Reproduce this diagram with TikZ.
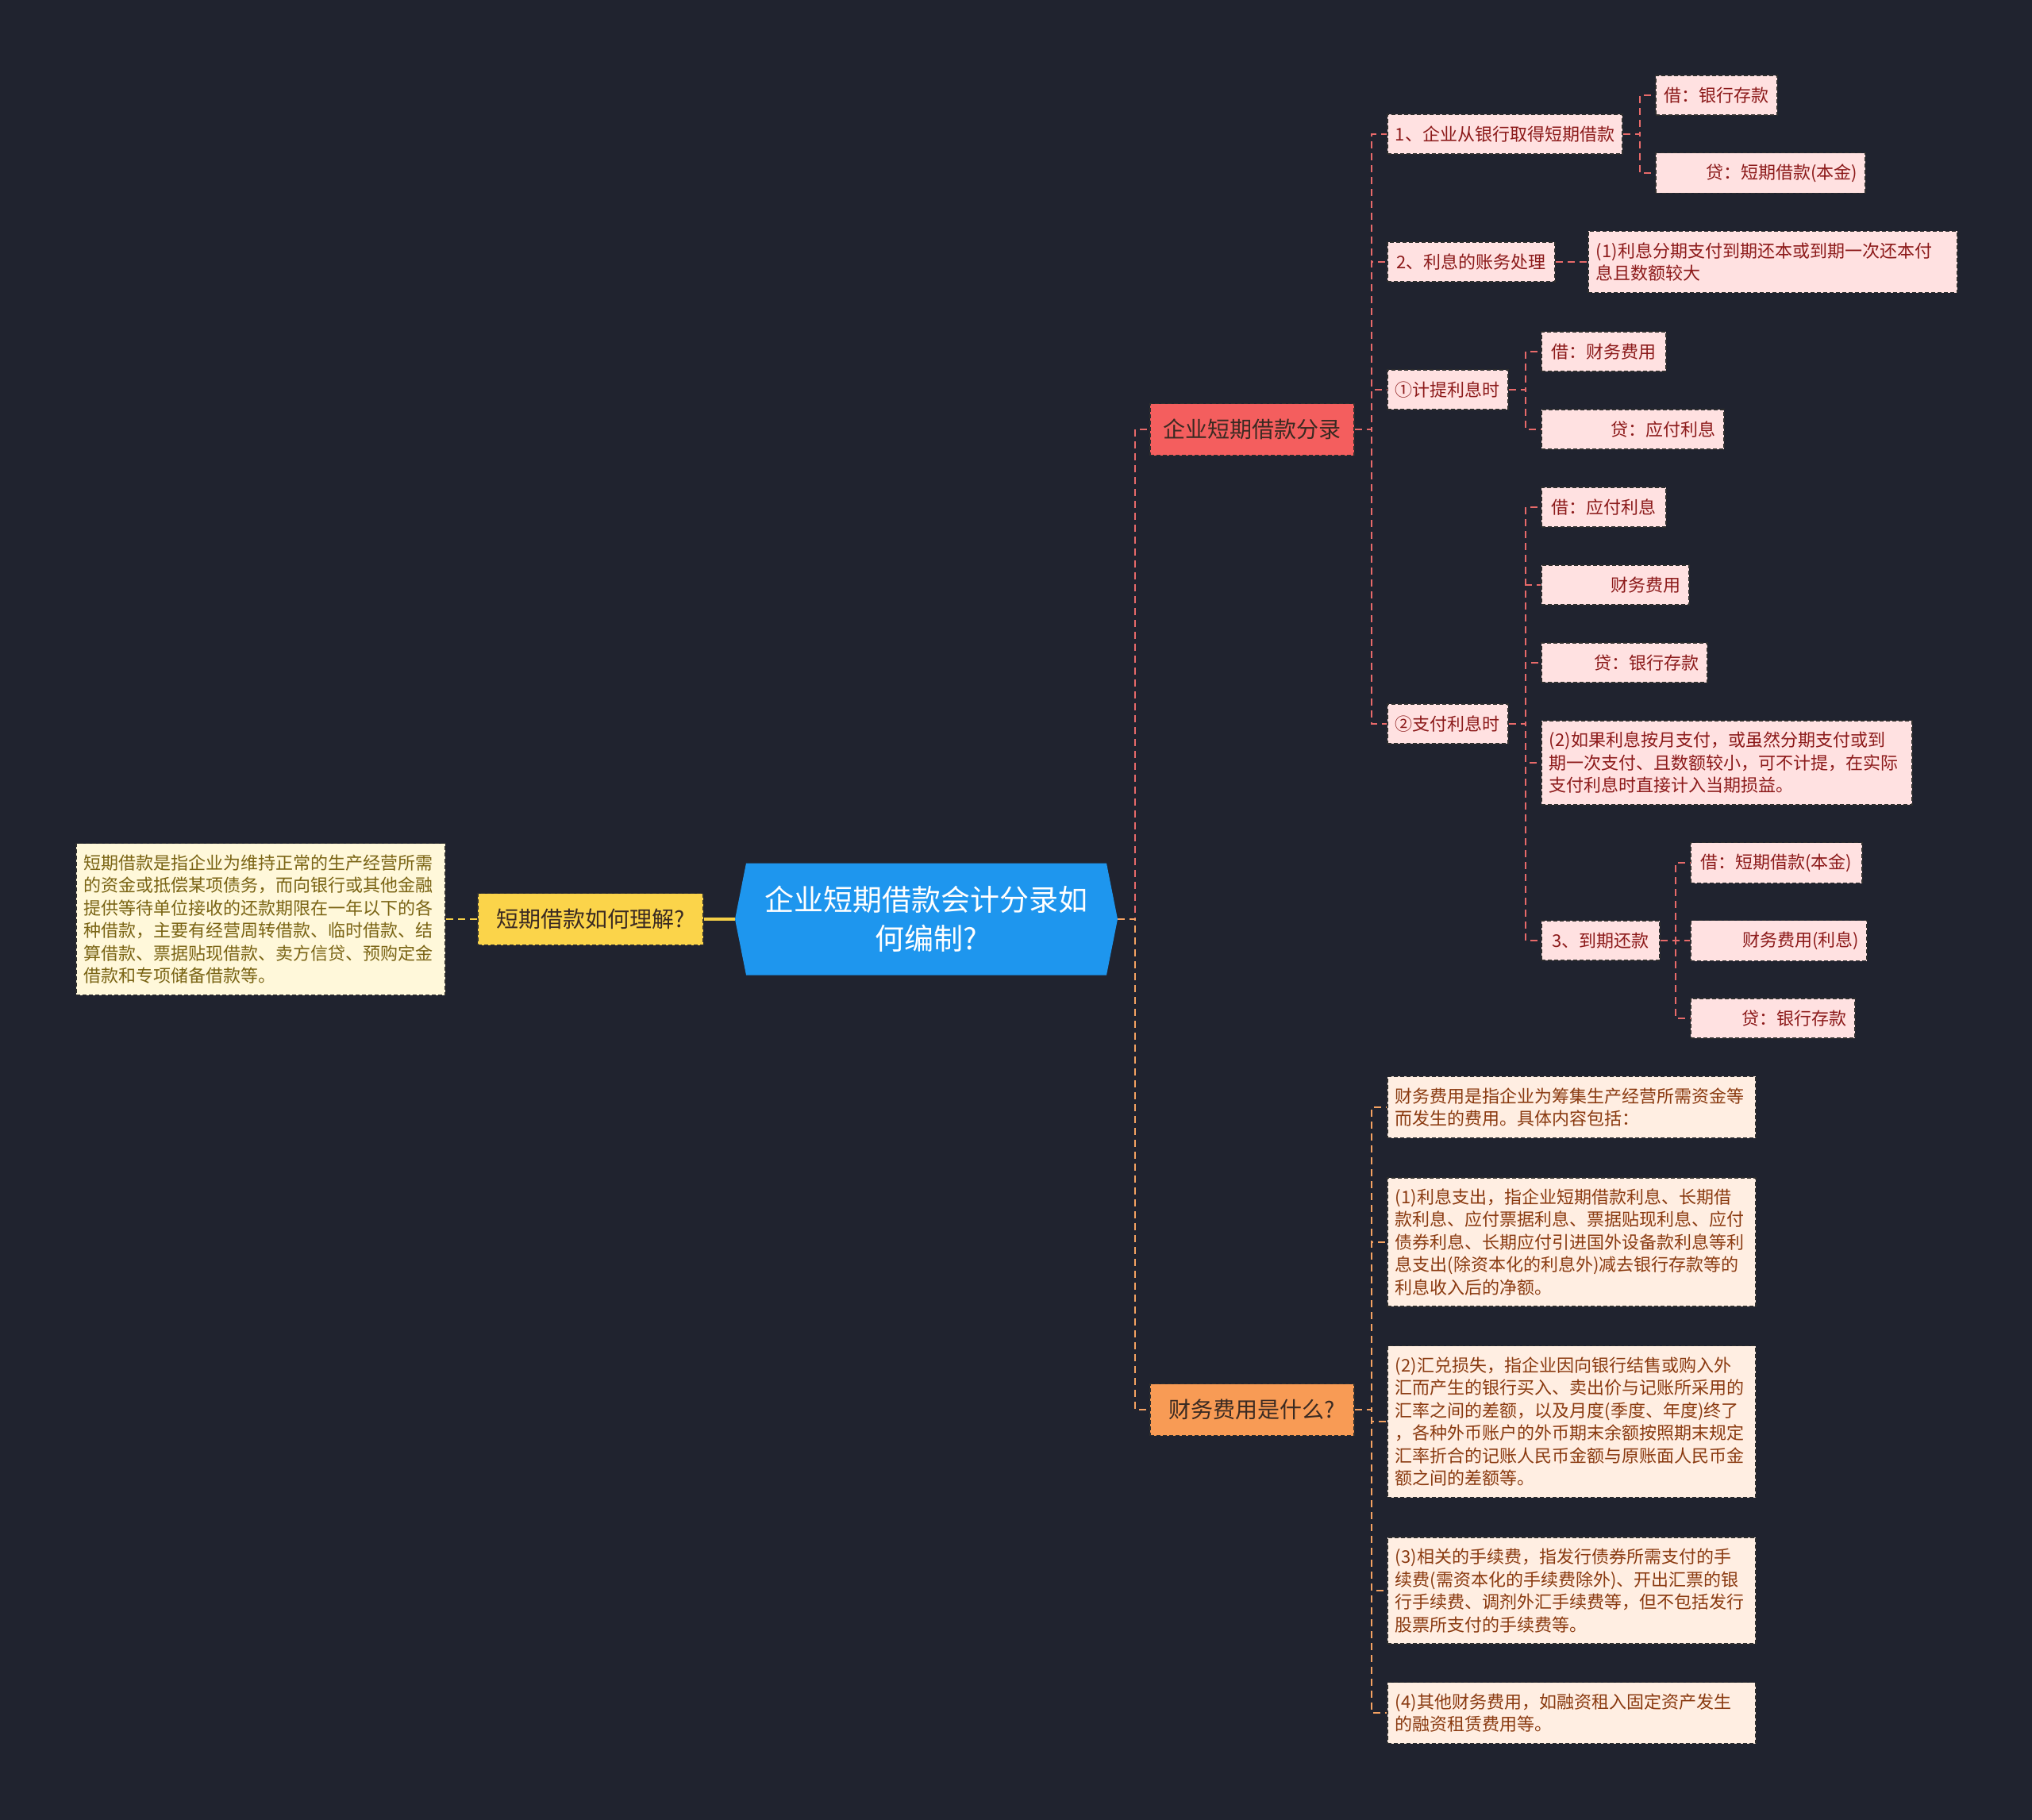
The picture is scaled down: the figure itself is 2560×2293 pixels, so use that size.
\documentclass[tikz,border=0pt]{standalone}
\usepackage{fontspec}
\newfontfamily\cjk{Noto Sans CJK SC}
\usetikzlibrary{calc}
\definecolor{bgc}{HTML}{20232F}
\definecolor{rootc}{HTML}{1E96EE}
\definecolor{redn}{HTML}{F45E5E}
\definecolor{orgn}{HTML}{F89B55}
\definecolor{yeln}{HTML}{FBD44A}
\definecolor{pinkf}{HTML}{FFE1E1}
\definecolor{peachf}{HTML}{FFEEE2}
\definecolor{creamf}{HTML}{FFF8DA}
\definecolor{redt}{HTML}{8C1A1A}
\definecolor{brownt}{HTML}{8A3A10}
\definecolor{olivet}{HTML}{7A6414}
\definecolor{redl}{HTML}{E86A6A}
\definecolor{orgl}{HTML}{F5A262}
\definecolor{yell}{HTML}{F5CF47}
\definecolor{bord}{HTML}{2E2E2E}
\definecolor{darkt}{HTML}{3A2A22}
\begin{document}
\begin{tikzpicture}[x=1pt,y=-1pt,
  base/.style={draw=bord, dash pattern=on 5pt off 3pt, line width=1.8pt,
    inner xsep=10pt, inner ysep=14pt, minimum height=50pt, anchor=west,
    font=\cjk\fontsize{22}{28.5}\selectfont},
  pinkbox/.style={base, fill=pinkf, text=redt},
  peachbox/.style={base, fill=peachf, text=brownt, align=left},
  creambox/.style={base, fill=creamf, text=olivet, align=left},
  lvlone/.style={base, minimum height=65pt, font=\cjk\fontsize{28}{34}\selectfont},
  rtext/.style={align=right, text width=#1},
  ltext/.style={align=left, text width=#1},
  rl/.style={draw=redl, line width=2.5pt, dash pattern=on 9pt off 6pt},
  ol/.style={draw=orgl, line width=2.5pt, dash pattern=on 9pt off 6pt},
  yl/.style={draw=yell, line width=2.5pt, dash pattern=on 9pt off 6pt},
]
\useasboundingbox (0,0) rectangle (2560,2293);
\fill[bgc] (0,0) rectangle (2560,2293);

% root hexagon
\coordinate (rc) at (1167,1158);
\fill[rootc] ($(rc)+(-241,0)$) -- ($(rc)+(-227,-70.5)$) -- ($(rc)+(227,-70.5)$)
  -- ($(rc)+(241,0)$) -- ($(rc)+(227,70.5)$) -- ($(rc)+(-227,70.5)$) -- cycle;
\node[inner sep=0pt, minimum width=482pt, minimum height=141pt, text=white,
  align=center, font=\cjk\fontsize{37}{49}\selectfont] (root) at (rc)
  {企业短期借款会计分录如\\何编制?};

% left branch
\node[lvlone, fill=yeln, text=darkt, minimum width=284pt] (yel) at (601,1158) {短期借款如何理解?};
\node[creambox, ltext=445pt] (ltx) at (95,1158) {短期借款是指企业为维持正常的生产经营所需\\的资金或抵偿某项债务，而向银行或其他金融\\提供等待单位接收的还款期限在一年以下的各\\种借款，主要有经营周转借款、临时借款、结\\算借款、票据贴现借款、卖方信贷、预购定金\\借款和专项储备借款等。};
\draw[yell, line width=4pt] (root.west) -- (yel.east);
\draw[yl] (yel.west) -- (ltx.east);

% level one right
\node[lvlone, fill=redn, text=darkt, minimum width=257pt] (red) at (1448,541) {企业短期借款分录};
\node[lvlone, fill=orgn, text=darkt, minimum width=257pt] (org) at (1448,1776) {财务费用是什么?};
\draw[rl] (root.east) -- ++(22,0) |- (red.west);
\draw[ol] (root.east) -- ++(22,0) |- (org.west);

% red branch
\node[pinkbox, minimum width=296pt] (a1) at (1747,169) {1、企业从银行取得短期借款};
\node[pinkbox, minimum width=153pt] (a1a) at (2085,120) {借：银行存款};
\node[pinkbox, rtext=244pt] (a1b) at (2085,218) {贷：短期借款(本金)};
\node[pinkbox, minimum width=211pt] (a2) at (1747,330) {2、利息的账务处理};
\node[pinkbox, ltext=445pt] (a2a) at (2000,330) {(1)利息分期支付到期还本或到期一次还本付\\息且数额较大};
\node[pinkbox, minimum width=152pt] (a3) at (1747,491) {①计提利息时};
\node[pinkbox, minimum width=157pt] (a3a) at (1941,443) {借：财务费用};
\node[pinkbox, rtext=210pt] (a3b) at (1941,541) {贷：应付利息};
\node[pinkbox, minimum width=152pt] (a4) at (1747,912) {②支付利息时};
\node[pinkbox, minimum width=157pt] (a4a) at (1941,639) {借：应付利息};
\node[pinkbox, rtext=166pt] (a4b) at (1941,737) {财务费用};
\node[pinkbox, rtext=189pt] (a4c) at (1941,835) {贷：银行存款};
\node[pinkbox, ltext=447pt] (a4d) at (1941,961) {(2)如果利息按月支付，或虽然分期支付或到\\期一次支付、且数额较小，可不计提，在实际\\支付利息时直接计入当期损益。};
\node[pinkbox, minimum width=149pt] (a5) at (1941,1185) {3、到期还款};
\node[pinkbox, minimum width=216pt] (a5a) at (2129,1087) {借：短期借款(本金)};
\node[pinkbox, rtext=202pt] (a5b) at (2129,1185) {财务费用(利息)};
\node[pinkbox, rtext=187pt] (a5c) at (2129,1283) {贷：银行存款};

\foreach \c in {a1,a2,a3,a4} \draw[rl] (red.east) -- ++(21,0) |- (\c.west);
\foreach \c in {a1a,a1b} \draw[rl] (a1.east) -- ++(21,0) |- (\c.west);
\draw[rl] (a2.east) -- (a2a.west);
\foreach \c in {a3a,a3b} \draw[rl] (a3.east) -- ++(21,0) |- (\c.west);
\foreach \c in {a4a,a4b,a4c,a4d,a5} \draw[rl] (a4.east) -- ++(21,0) |- (\c.west);
\foreach \c in {a5a,a5b,a5c} \draw[rl] (a5.east) -- ++(19,0) |- (\c.west);

% orange branch
\node[peachbox, text width=444pt] (b1) at (1747,1395) {财务费用是指企业为筹集生产经营所需资金等\\而发生的费用。具体内容包括：};
\node[peachbox, text width=444pt] (b2) at (1747,1565) {(1)利息支出，指企业短期借款利息、长期借\\款利息、应付票据利息、票据贴现利息、应付\\债券利息、长期应付引进国外设备款利息等利\\息支出(除资本化的利息外)减去银行存款等的\\利息收入后的净额。};
\node[peachbox, text width=444pt] (b3) at (1747,1791) {(2)汇兑损失，指企业因向银行结售或购入外\\汇而产生的银行买入、卖出价与记账所采用的\\汇率之间的差额，以及月度(季度、年度)终了\\，各种外币账户的外币期末余额按照期末规定\\汇率折合的记账人民币金额与原账面人民币金\\额之间的差额等。};
\node[peachbox, text width=444pt] (b4) at (1747,2004) {(3)相关的手续费，指发行债券所需支付的手\\续费(需资本化的手续费除外)、开出汇票的银\\行手续费、调剂外汇手续费等，但不包括发行\\股票所支付的手续费等。};
\node[peachbox, text width=444pt] (b5) at (1747,2158) {(4)其他财务费用，如融资租入固定资产发生\\的融资租赁费用等。};
\foreach \c in {b1,b2,b3,b4,b5} \draw[ol] (org.east) -- ++(21,0) |- (\c.west);
\end{tikzpicture}
\end{document}
